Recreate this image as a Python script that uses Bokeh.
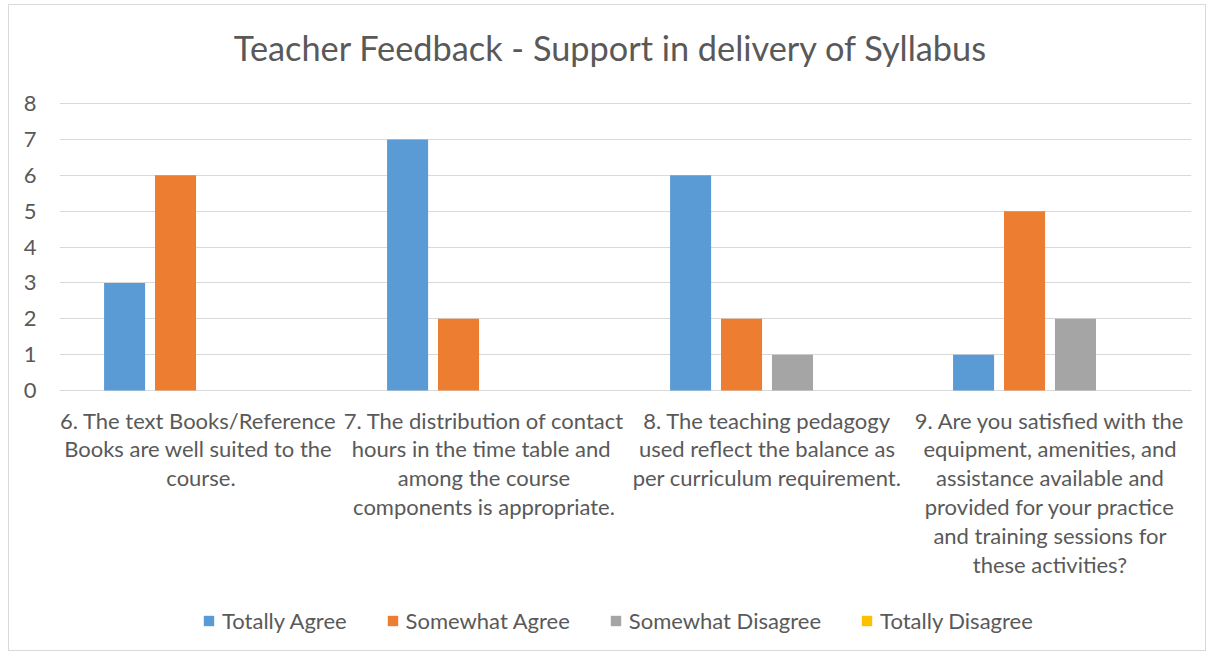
from bokeh.plotting import figure
from bokeh.models import ColumnDataSource, Range1d, FixedTicker, Legend, LegendItem
from bokeh.core.properties import value
from bokeh.transform import dodge
from bokeh.embed import file_html
from bokeh.resources import INLINE

title_text = "Teacher Feedback - Support in delivery of Syllabus"
categories = [
    "6.  The text Books/Reference\nBooks are well suited to the \ncourse.",
    "7. The distribution of contact\nhours in the time table  and\namong the course\ncomponents is appropriate.",
    "8. The teaching pedagogy\nused reflect the balance as\nper curriculum requirement.",
    "9. Are you satisfied with the\nequipment, amenities, and\nassistance available and\nprovided for your practice\nand training sessions for\nthese activities?",
]
series = ["Totally Agree", "Somewhat Agree", "Somewhat Disagree", "Totally Disagree"]
totally_agree = [3, 7, 6, 1]
somewhat_agree = [6, 2, 2, 5]
somewhat_disagree = [0, 0, 1, 2]
totally_disagree = [0, 0, 0, 0]
y_ticks = [0, 1, 2, 3, 4, 5, 6, 7, 8]
colors = ["#5B9BD5", "#ED7D31", "#A5A5A5", "#FFC000"]

TEXT = "#595959"
FONT = "Lato"

# layout geometry (pixels)
PX_PER_UNIT = 287 / 8.0
PX_PER_GROUP = 283.0
FRAME_TOP_EXTRA = 93      # px above the top gridline (room for the title)
FRAME_BOTTOM_EXTRA = 258  # px below the "0" gridline (room for labels and legend)

positions = list(range(len(categories)))
source = ColumnDataSource(dict(
    x=positions,
    s0=totally_agree,
    s1=somewhat_agree,
    s2=somewhat_disagree,
    s3=totally_disagree,
))

y_top = y_ticks[-1] + FRAME_TOP_EXTRA / PX_PER_UNIT
y_bottom = -FRAME_BOTTOM_EXTRA / PX_PER_UNIT

p = figure(width=1198, height=647, output_backend="svg", toolbar_location=None,
           x_range=Range1d(-0.5, 3.5), y_range=Range1d(y_bottom, y_top),
           min_border_left=50, min_border_right=16, min_border_top=5,
           min_border_bottom=4, background_fill_color="white",
           border_fill_color="white", outline_line_color=None)
p.margin = (4, 0, 0, 8)
p.styles = {"border": "1px solid #D9D9D9"}
p.title.visible = False

step = 0.18
width = 0.145
offsets = [-1.5 * step, -0.5 * step, 0.5 * step, 1.5 * step]
renderers = []
for i, (name, col) in enumerate(zip(series, colors)):
    r = p.vbar(x=dodge("x", offsets[i], range=p.x_range), top="s%d" % i, width=width,
               bottom=0, source=source, fill_color=col, line_color=None)
    renderers.append(r)

p.xgrid.grid_line_color = None
p.ygrid.ticker = FixedTicker(ticks=y_ticks)
p.ygrid.grid_line_color = "#D9D9D9"
p.ygrid.grid_line_width = 1

p.yaxis.ticker = FixedTicker(ticks=y_ticks)
p.yaxis.axis_line_color = None
p.yaxis.major_tick_line_color = None
p.yaxis.minor_tick_line_color = None
p.yaxis.major_tick_out = 0
p.yaxis.major_tick_in = 0
p.yaxis.major_label_text_font = FONT
p.yaxis.major_label_text_font_size = "22px"
p.yaxis.major_label_text_color = TEXT
p.yaxis.major_label_standoff = 23

p.xaxis.visible = False

# chart title, centred over the whole chart box
title_x = 1.5 - 14.5 / PX_PER_GROUP
p.text(x=[title_x], y=[y_ticks[-1]], text=[title_text], y_offset=-56,
       text_align="center", text_baseline="alphabetic", text_font=value(FONT),
       text_font_size=value("34.3px"), text_color=TEXT)

# category labels below the axis
label_src = ColumnDataSource(dict(x=positions, y=[0] * len(positions), text=categories))
p.text(x="x", y="y", text="text", source=label_src, y_offset=16,
       text_align="center", text_baseline="top", text_font=value(FONT),
       text_font_size=value("22px"), text_color=TEXT, text_line_height=1.07)

legend = Legend(items=[LegendItem(label=s, renderers=[r]) for s, r in zip(series, renderers)],
                orientation="horizontal", location=(143, 14))
legend.border_line_color = None
legend.background_fill_alpha = 0
legend.label_text_font = FONT
legend.label_text_font_size = "22px"
legend.label_text_color = TEXT
legend.glyph_width = 13
legend.glyph_height = 13
legend.spacing = 39
legend.label_standoff = 7
legend.padding = 0
legend.margin = 0
p.add_layout(legend, "center")

open("out.html", "w").write(file_html(p, INLINE))
